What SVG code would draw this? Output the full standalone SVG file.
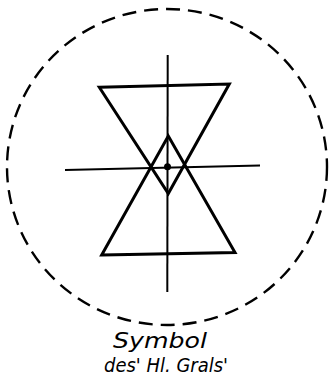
<svg xmlns="http://www.w3.org/2000/svg" width="329" height="380" viewBox="0 0 329 380">
<style>
.thick{fill:none;stroke:#000;stroke-width:3;stroke-linejoin:miter}
.thin{fill:none;stroke:#000;stroke-width:2}
.dash{fill:none;stroke:#000;stroke-width:2.4;stroke-dasharray:14 8}
.t{font-family:"DejaVu Sans",sans-serif;font-style:italic;fill:#000}
</style>
<rect width="329" height="380" fill="#fff"/>
<g id="circle"><ellipse class="dash" cx="167" cy="167" rx="160" ry="158"/></g>
<g id="cross">
<line class="thin" x1="167.7" y1="55" x2="167.3" y2="292"/>
<line class="thin" x1="65" y1="170" x2="260" y2="165.5"/>
</g>
<g id="hourglass">
<polygon class="thick" points="99.3,87.3 229.3,84 168.3,193.5"/>
<polygon class="thick" points="101.7,255 235,252.5 168.3,136"/>
<circle cx="167.5" cy="166.7" r="3.5" fill="#000"/>
</g>
<g id="caption">
<text class="t" x="113" y="348" font-size="22" textLength="94" lengthAdjust="spacingAndGlyphs">Symbol</text>
<text class="t" x="104" y="372" font-size="19" textLength="124" lengthAdjust="spacingAndGlyphs">des' Hl. Grals'</text>
</g>
</svg>
